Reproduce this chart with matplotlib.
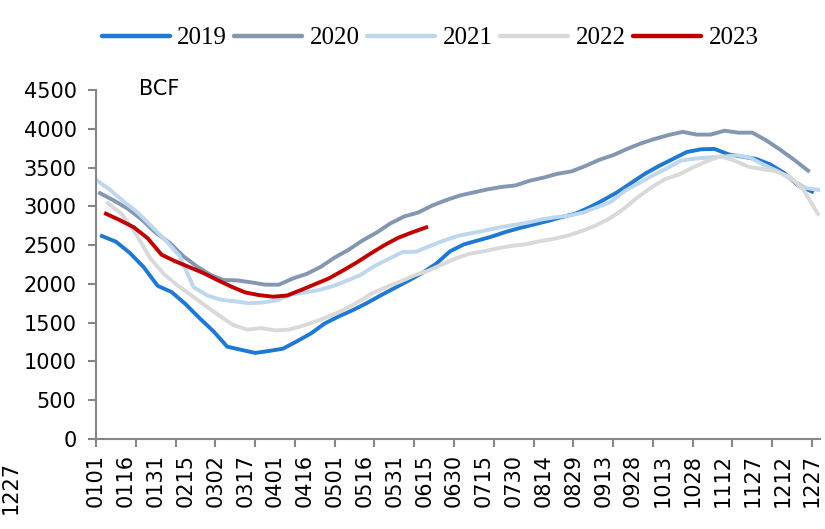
import matplotlib
matplotlib.use("Agg")
import matplotlib.pyplot as plt
import pandas as pd
import numpy as np

# ---------------- data ----------------
years = ["2019", "2020", "2021", "2022", "2023"]
start_dates = ["2019-01-04", "2020-01-03", "2021-01-01", "2022-01-07", "2023-01-06"]

storage_2019 = [2617, 2544, 2400, 2215, 1975, 1895, 1740, 1560, 1390, 1190, 1150, 1110, 1135,
                1165, 1260, 1360, 1490, 1580, 1660, 1750, 1850, 1945, 2040, 2140, 2260, 2420,
                2510, 2560, 2610, 2670, 2720, 2765, 2810, 2860, 2905, 2985, 3080, 3180, 3300,
                3420, 3520, 3610, 3700, 3735, 3740, 3670, 3640, 3610, 3540, 3430, 3270, 3190]
storage_2020 = [3170, 3075, 2970, 2830, 2660, 2530, 2355, 2220, 2110, 2050, 2045, 2020, 1990,
                1990, 2070, 2130, 2220, 2340, 2440, 2560, 2660, 2780, 2870, 2920, 3010, 3080,
                3140, 3180, 3220, 3250, 3270, 3330, 3370, 3420, 3450, 3520, 3600, 3660, 3740,
                3812, 3870, 3920, 3960, 3925, 3925, 3975, 3950, 3950, 3850, 3730, 3600, 3460]
storage_2021 = [3340, 3215, 3060, 2920, 2740, 2560, 2360, 1960, 1850, 1795, 1775, 1750, 1760,
                1790, 1860, 1890, 1920, 1970, 2040, 2115, 2230, 2320, 2410, 2415, 2490, 2560,
                2620, 2655, 2690, 2730, 2760, 2790, 2830, 2860, 2880, 2920, 2990, 3060, 3200,
                3300, 3400, 3490, 3590, 3615, 3630, 3640, 3660, 3625, 3533, 3450, 3340, 3235, 3210]
storage_2022 = [3040, 2900, 2650, 2340, 2130, 1980, 1850, 1720, 1590, 1470, 1410, 1430, 1400,
                1410, 1460, 1520, 1590, 1670, 1770, 1880, 1960, 2030, 2110, 2170, 2250, 2330,
                2390, 2420, 2460, 2490, 2510, 2550, 2580, 2620, 2680, 2750, 2840, 2960, 3110,
                3240, 3350, 3410, 3500, 3580, 3645, 3590, 3510, 3480, 3450, 3380, 3200, 2900]
storage_2023 = [2905, 2822, 2730, 2588, 2375, 2290, 2215, 2140, 2050, 1965, 1890, 1855, 1835,
                1850, 1920, 1995, 2070, 2170, 2275, 2390, 2500, 2595, 2665, 2729]
series = [storage_2019, storage_2020, storage_2021, storage_2022, storage_2023]

colors = ["#1F78D1", "#8497B0", "#BDD7EE", "#D9D9D9", "#C00000"]

x_tick_labels = ["0101", "0116", "0131", "0215", "0302", "0317", "0401", "0416", "0501",
                 "0516", "0531", "0615", "0630", "0715", "0730", "0814", "0829", "0913",
                 "0928", "1013", "1028", "1112", "1127", "1212", "1227"]
y_ticks = [0, 500, 1000, 1500, 2000, 2500, 3000, 3500, 4000, 4500]
unit_label = "BCF"
stray_label = "1227"

# ---------------- figure ----------------
W, H = 825, 529
fig = plt.figure(figsize=(W / 100, H / 100), dpi=100)
ax = fig.add_axes([96 / W, 1 - 439 / H, 724 / W, (439 - 90) / H])

ref = pd.Timestamp("2023-01-01")


def day_positions(start, n):
    dates = pd.date_range(start, periods=n, freq="7D")
    return [(pd.Timestamp(2023, d.month, min(d.day, 28) if d.month == 2 else d.day) - ref).days
            for d in dates]


for yr, st, vals, c in zip(years, start_dates, series, colors):
    xs = day_positions(st, len(vals))
    ax.plot(xs, vals, color=c, lw=2.8, label=yr, solid_joinstyle="round")

ax.set_xlim(0, 364)
ax.set_ylim(0, 4500)

gray = "#868686"
for s in ["top", "right"]:
    ax.spines[s].set_visible(False)
for s in ["left", "bottom"]:
    ax.spines[s].set_color(gray)
    ax.spines[s].set_linewidth(1.5)

ax.set_yticks(y_ticks)
ax.set_yticklabels([str(v) for v in y_ticks])
ax.tick_params(axis="y", direction="out", length=6, width=1.5, color=gray, pad=8,
               labelsize=15, labelcolor="black")

# major ticks every 20 days (marks only), labels every 15 days
ax.xaxis.remove_overlapping_locs = False
ax.set_xticks(np.arange(0, 361, 20))
ax.set_xticklabels([])
ax.tick_params(axis="x", which="major", direction="out", length=6, width=1.5, color=gray)
ax.set_xticks(np.arange(0, 361, 15), minor=True)
ax.set_xticklabels(x_tick_labels, minor=True, rotation=90, fontsize=15)
ax.tick_params(axis="x", which="minor", length=0, pad=11)

for lab in ax.get_yticklabels() + ax.get_xticklabels(minor=True):
    lab.set_family("DejaVu Sans")

ax.text(139 / W, 1 - 89 / H, unit_label, transform=fig.transFigure, fontsize=15,
        family="DejaVu Sans", va="center", ha="left")

# stray label at the left edge
fig.text(1 / W, 1 - 488 / H, stray_label, rotation=90, fontsize=15, family="DejaVu Sans",
         va="center", ha="left")

leg = fig.legend(loc="center", bbox_to_anchor=(430 / W, 1 - 38 / H), ncol=5, frameon=False,
                 prop={"family": "Liberation Serif", "size": 18}, handlelength=2.72,
                 handletextpad=0.28, columnspacing=0.32, borderaxespad=0, borderpad=0)
for h in leg.get_lines():
    h.set_linewidth(3.2)
    h.set_solid_capstyle("round")

fig.savefig("out.png", dpi=100)
